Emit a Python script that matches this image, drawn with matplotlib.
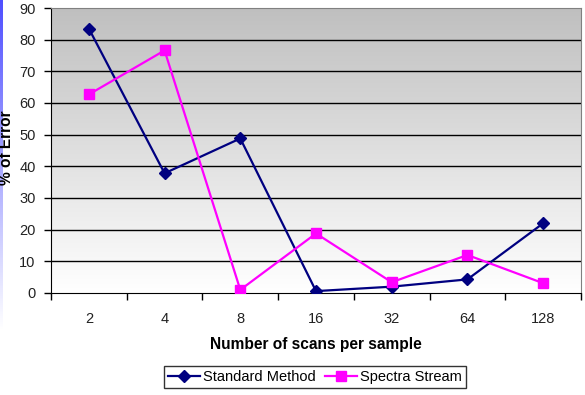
import matplotlib
matplotlib.use("Agg")
import matplotlib.pyplot as plt
import numpy as np

plt.rcParams['font.family'] = ['Liberation Sans', 'DejaVu Sans']

# data
scans = ['2', '4', '8', '16', '32', '64', '128']
standard = [83.5, 37.8, 48.8, 0.6, 2.0, 4.3, 22.0]
spectra = [62.7, 76.6, 1.0, 18.8, 3.4, 12.0, 3.1]
yticks = list(range(0, 100, 10))

fig = plt.figure(figsize=(5.85, 3.95), dpi=100)

# thin blue strip on the left edge (slide background)
strip = fig.add_axes([0, 65/395, 3/585, 330/395])
grad = np.linspace(0, 1, 256).reshape(-1, 1)
cols = np.zeros((256, 1, 3))
cols[..., 0] = 0.31 + 0.69 * grad
cols[..., 1] = 0.31 + 0.69 * grad
cols[..., 2] = 1.0
strip.imshow(cols, aspect='auto', extent=[0, 1, 0, 1], origin='upper')
strip.axis('off')

ax = fig.add_axes([51/585, 1 - 293/395, 530/585, 285/395])
x = np.arange(len(scans))

# gray to white gradient background
bg = np.zeros((256, 1, 3))
g = np.linspace(0.75, 1.0, 256).reshape(-1, 1)
bg[..., 0] = g
bg[..., 1] = g
bg[..., 2] = g
ax.imshow(bg, aspect='auto', extent=[-0.5, 6.5, 0, 90], origin='upper', zorder=0)

for v in yticks[1:-1]:
    ax.axhline(v, color='black', lw=1.0, zorder=1)

ax.plot(x, standard, color='#000080', lw=1.6, marker='D', ms=6,
        label='Standard Method', zorder=3)
ax.plot(x, spectra, color='#ff00ff', lw=1.6, marker='s', ms=7,
        label='Spectra Stream', zorder=3)

ax.set_xlim(-0.5, 6.5)
ax.set_ylim(0, 90)
ax.set_yticks(yticks)
ax.set_xticks(x)
ax.set_xticklabels(scans)
ax.set_xticks(np.arange(-0.5, 7, 1), minor=True)
ax.tick_params(axis='x', which='major', length=0, pad=14, labelsize=10.5, colors='#222222')
ax.tick_params(axis='x', which='minor', length=5, width=1, direction='out')
ax.tick_params(axis='y', length=5, width=1, direction='out', pad=6, labelsize=10.5,
               colors='black', labelcolor='#222222')

ax.spines['left'].set_color('black')
ax.spines['bottom'].set_color('black')
ax.spines['top'].set_color('#808080')
ax.spines['right'].set_color('#808080')

fig.text(316/585, 1 - 345/395, 'Number of scans per sample', ha='center', va='center',
         fontsize=11.2, fontweight='bold')
fig.text(7/585, 1 - 148/395, '% of Error', ha='center', va='center', rotation=90,
         fontsize=11.2, fontweight='bold')

leg = fig.legend(loc='center', bbox_to_anchor=(315/585, 1 - 377/395), ncol=2,
                 frameon=True, fancybox=False, edgecolor='black', fontsize=10.5,
                 handlelength=2.2, handletextpad=0.2, columnspacing=0.6,
                 borderpad=0.3, borderaxespad=0)
leg.get_frame().set_linewidth(1.0)

fig.savefig('out.png', dpi=100)
